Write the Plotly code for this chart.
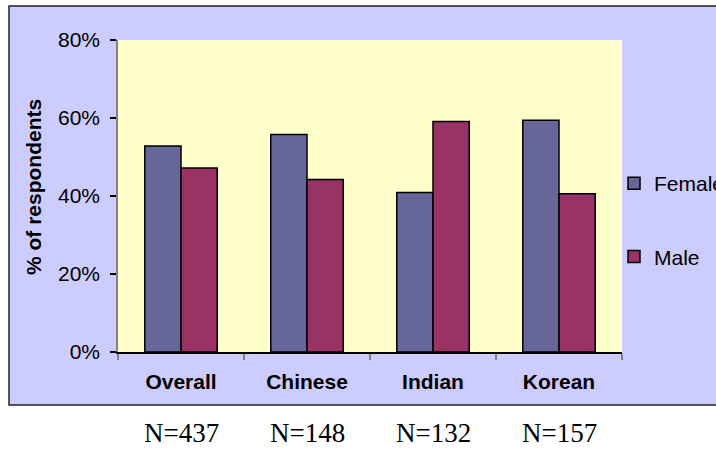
import plotly.graph_objects as go

categories = ["Overall", "Chinese", "Indian", "Korean"]
female = [52.8, 55.8, 40.9, 59.4]
male = [47.2, 44.2, 59.1, 40.6]
n_labels = ["N=437", "N=148", "N=132", "N=157"]
y_ticks = [0, 20, 40, 60, 80]
y_ticktext = ["0%", "20%", "40%", "60%", "80%"]

SANS = "Liberation Sans, Arial, sans-serif"
SERIF = "Liberation Serif, Times New Roman, serif"

fig = go.Figure()
fig.add_trace(go.Bar(x=categories, y=female, name="Female", legendgroup="f",
                     marker=dict(color="#666699", line=dict(color="black", width=1.5))))
fig.add_trace(go.Bar(x=categories, y=male, name="Male", legendgroup="m",
                     marker=dict(color="#993366", line=dict(color="black", width=1.5))))

W, H = 716, 450
L, R, T, B = 118, 622, 40, 352
pw, ph = R - L, B - T

def px(x):
    return (x - L) / pw

def py(y):
    return (B - y) / ph

shapes = [
    dict(type="rect", xref="paper", yref="paper", layer="below",
         x0=px(9), x1=px(740), y0=py(405), y1=py(6),
         fillcolor="#CCCCFF", line=dict(color="#222222", width=1.5)),
    dict(type="rect", xref="paper", yref="paper", layer="below",
         x0=0, x1=1, y0=0, y1=1, fillcolor="#FFFFCC", line=dict(width=0)),
]

annotations = [
    dict(text="<b>% of respondents</b>", textangle=-90, xref="paper", yref="paper",
         x=px(33), y=py(187), showarrow=False, xanchor="center", yanchor="middle",
         font=dict(family=SANS, size=21, color="black")),
]
for c, t in zip(categories, n_labels):
    annotations.append(dict(text=t, xref="x", yref="paper", x=c, y=py(433),
                            showarrow=False, xanchor="center", yanchor="middle",
                            font=dict(family=SERIF, size=27, color="black")))

fig.update_layout(
    width=W, height=H,
    margin=dict(l=L, r=W - R, t=T, b=H - B, autoexpand=False),
    paper_bgcolor="white", plot_bgcolor="rgba(0,0,0,0)",
    barmode="group", bargap=0.425, bargroupgap=0,
    font=dict(family=SANS, size=21, color="black"),
    shapes=shapes, annotations=annotations,
    legend=dict(x=px(614), y=py(163), xanchor="left", yanchor="top",
                bgcolor="rgba(0,0,0,0)", tracegroupgap=43,
                font=dict(family=SANS, size=21, color="black")),
    showlegend=True,
)
fig.update_yaxes(range=[0, 80], tickvals=y_ticks, ticktext=y_ticktext,
                 showgrid=False, zeroline=False, showline=True, linecolor="#808080",
                 linewidth=1.5, ticks="outside", ticklen=6, tickcolor="black",
                 tickwidth=1.5, ticklabelstandoff=6,
                 tickfont=dict(family=SANS, size=21, color="black"))
fig.update_xaxes(tickson="boundaries", ticks="outside", ticklen=6, tickcolor="#808080",
                 tickwidth=1.5, showline=True, linecolor="black", linewidth=1.5,
                 showgrid=False, ticklabelstandoff=10,
                 tickfont=dict(family=SANS, size=21, color="black", weight="bold"))

fig.write_html("out.html", config={"displayModeBar": False},
               post_script="document.body.style.margin='0px';")
